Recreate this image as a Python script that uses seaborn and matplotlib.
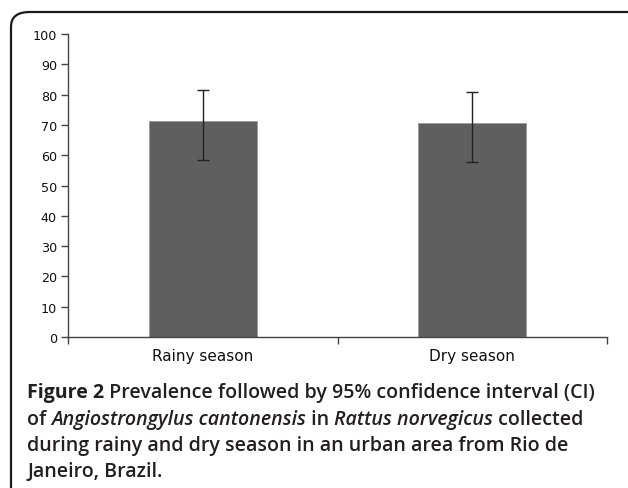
import matplotlib
matplotlib.use('Agg')
import matplotlib.pyplot as plt
from matplotlib.patches import FancyBboxPatch
import numpy as np
import pandas as pd
import seaborn as sns

# 数据
seasons = ['Rainy season', 'Dry season']
prevalence = [71.3, 70.6]
ci_low = [58.4, 57.8]
ci_high = [81.5, 80.9]
y_ticks = list(range(0, 101, 10))

sns.set_theme(style='white')
plt.rcParams['font.family'] = ['DejaVu Sans']

fig = plt.figure(figsize=(6.28, 4.89), dpi=100)
ax = fig.add_axes([0.1083, 0.3088, 0.8583, 0.6196])

df = pd.DataFrame({'season': seasons, 'prevalence': prevalence})
sns.barplot(data=df, x='season', y='prevalence', color='#5f5f5f', width=0.4,
            saturation=1, edgecolor='#9a9a9a', linewidth=0.6, errorbar=None, ax=ax)

# 95% 置信区间
pos = np.arange(len(seasons))
yerr = [np.array(prevalence) - np.array(ci_low), np.array(ci_high) - np.array(prevalence)]
ax.errorbar(pos, prevalence, yerr=yerr, fmt='none', ecolor='#222222',
            elinewidth=1.0, capsize=4.5, capthick=1.0)

ax.set_xlim(-0.5, len(seasons) - 0.5)
ax.set_ylim(0, 100)
ax.set_yticks(y_ticks)
ax.set_xlabel('')
ax.set_ylabel('')
ax.set_xticks(np.arange(-0.5, len(seasons)), minor=True)
ax.tick_params(axis='x', which='major', length=0, labelsize=11, pad=8, colors='#111111')
ax.tick_params(axis='x', which='minor', length=5, width=1, color='#444444', direction='out')
ax.tick_params(axis='y', which='major', length=5, width=1, color='#444444', direction='out',
               labelsize=9.2, labelcolor='#111111', pad=3)
ax.xaxis.set_tick_params(bottom=True, which='minor')
ax.yaxis.set_tick_params(left=True)
sns.despine(ax=ax)
for s in ['left', 'bottom']:
    ax.spines[s].set_color('#444444')
    ax.spines[s].set_linewidth(1.0)

# 外框
box = FancyBboxPatch((11 / 628, -0.05), 1.2, 1 - 13 / 489 + 0.05,
                     boxstyle='round,pad=0,rounding_size=0.03',
                     transform=fig.transFigure, fill=False,
                     edgecolor='#1a1a1a', linewidth=1.6, clip_on=False)
fig.patches.append(box)

# 图注
cap_font = ['Open Sans', 'DejaVu Sans']
cap_size = 14.1
lines = [
    [('Figure 2', 'bold', 'normal'), (' Prevalence followed by 95% confidence interval (CI)', 'semibold', 'normal')],
    [('of ', 'semibold', 'normal'), ('Angiostrongylus cantonensis', 'semibold', 'italic'), (' in ', 'semibold', 'normal'),
     ('Rattus norvegicus', 'semibold', 'italic'), (' collected', 'semibold', 'normal')],
    [('during rainy and dry season in an urban area from Rio de', 'semibold', 'normal')],
    [('Janeiro, Brazil.', 'semibold', 'normal')],
]
line_y = [393, 420, 446, 472]
fig.canvas.draw()
renderer = fig.canvas.get_renderer()
for runs, yp in zip(lines, line_y):
    x = 27
    for txt, weight, style in runs:
        t = fig.text(x / 628, 1 - yp / 489, txt, fontsize=cap_size, fontweight=weight,
                     fontstyle=style, family=cap_font, color='#231f20', va='center', ha='left')
        bb = t.get_window_extent(renderer=renderer)
        x += bb.width

fig.savefig('out.png', dpi=100)
